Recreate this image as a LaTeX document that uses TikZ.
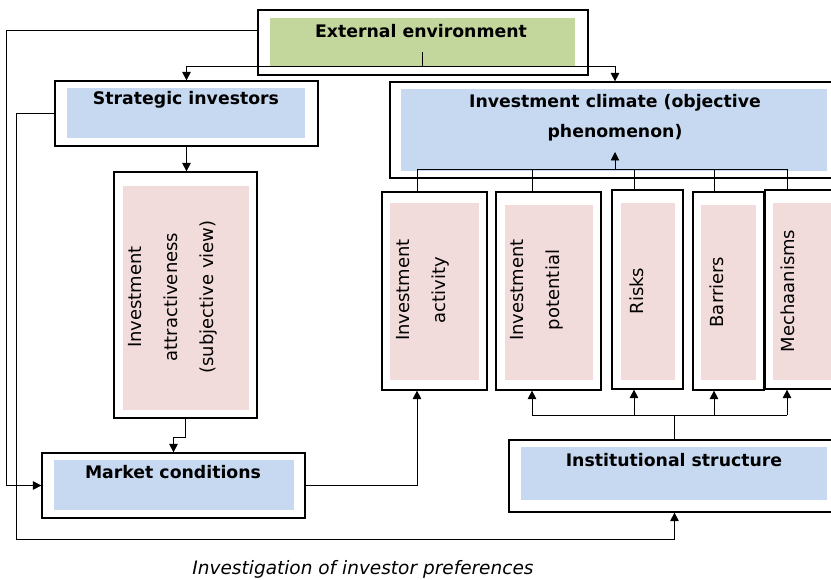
\documentclass[tikz,border=0pt]{standalone}
\usepackage{fontspec}
\setmainfont{DejaVu Sans}
\usetikzlibrary{arrows.meta,calc}
\definecolor{envgreen}{RGB}{195,214,155}
\definecolor{boxblue}{RGB}{198,217,241}
\definecolor{boxpink}{RGB}{242,220,219}
\tikzset{
  outerbox/.style={draw, line width=1.2pt, inner sep=0pt},
  conn/.style={line width=0.9pt},
  arr/.style={conn, -{Triangle[width=8.5pt,length=8.5pt]}},
  lbl/.style={font=\bfseries\fontsize{17.3}{30}\selectfont, inner sep=0pt, align=center},
  vlbl/.style={rotate=90, align=center, inner sep=0pt, font=\fontsize{18}{36}\selectfont},
  captext/.style={font=\itshape\fontsize{18.5}{22}\selectfont, inner sep=0pt}
}
\begin{document}
\begin{tikzpicture}[x=1pt,y=-1pt]
\useasboundingbox (0,0) rectangle (831,580);
\clip (0,0) rectangle (831,580);
% outer boxes
\node[outerbox, minimum width=330pt, minimum height=65pt] (ext) at (423,42.5) {};
\node[outerbox, minimum width=263pt, minimum height=65pt] (strat) at (186.5,113.5) {};
\node[outerbox, minimum width=143pt, minimum height=246pt] (attr) at (185.5,295) {};
\node[outerbox, minimum width=263pt, minimum height=65pt] (market) at (173.5,485.5) {};
\node[outerbox, minimum width=450pt, minimum height=96pt] (climate) at (615,130) {};
\node[outerbox, minimum width=105pt, minimum height=198pt] (act) at (434.5,291) {};
\node[outerbox, minimum width=105pt, minimum height=198pt] (pot) at (548.5,291) {};
\node[outerbox, minimum width=71pt, minimum height=199pt] (risk) at (647.5,289.5) {};
\node[outerbox, minimum width=71pt, minimum height=198pt] (barr) at (728.5,291) {};
\node[outerbox, minimum width=80pt, minimum height=199pt] (mech) at (805,289.5) {};
\node[outerbox, minimum width=331pt, minimum height=72pt] (inst) at (674.5,476) {};
% inner fills
\fill[envgreen] (270,18) rectangle (575,67);
\fill[boxblue] (67,88) rectangle (305,138);
\fill[boxpink] (123,186) rectangle (249,410);
\fill[boxblue] (54,460) rectangle (294,510);
\fill[boxblue] (401,89) rectangle (827,171);
\fill[boxpink] (390,203) rectangle (479,380);
\fill[boxpink] (505,205) rectangle (593,380);
\fill[boxpink] (621,203) rectangle (675,380);
\fill[boxpink] (701,205) rectangle (756,380);
\fill[boxpink] (773,203) rectangle (831,380);
\fill[boxblue] (521,447) rectangle (827,500);
% labels
\node[lbl] (extl) at (421,31) {External environment};
\node[lbl] (stratl) at (186,100) {Strategic investors};
\node[lbl] (climl) at (615,118) {Investment climate (objective\\phenomenon)};
\node[lbl] (marketl) at (173,472) {Market conditions};
\node[lbl] (instl) at (674,460) {Institutional structure};
\node[vlbl] (attrl) at (173,297) {Investment\\attractiveness\\(subjective view)};
\node[vlbl] (actl) at (423,290) {Investment\\activity};
\node[vlbl] (potl) at (537,290) {Investment\\potential};
\node[vlbl] (riskl) at (637,291) {Risks};
\node[vlbl] (barrl) at (717,292) {Barriers};
\node[vlbl] (mechl) at (788,291) {Mechaanisms};
\node[captext] (caption) at (363,569) {Investigation of investor preferences};
% connector coordinates
\coordinate (exttick) at (422,52);
\coordinate (extsplit) at (422,66);
\coordinate (climin) at (615,152);
\coordinate (topbus) at (615,169);
\coordinate (colA) at (417,0);
\coordinate (colB) at (532,0);
\coordinate (colC) at (634,0);
\coordinate (colD) at (714,0);
\coordinate (colE) at (787,0);
\coordinate (botbus) at (674,415);
% external environment connectors
\draw[conn] (exttick) -- (extsplit);
\draw[arr] (extsplit) -| (strat.north);
\draw[arr] (extsplit) -| (climate.north);
\draw[arr] ([yshift=12.5pt]ext.west) -- ++(-251,0) |- (market.west);
% strategic investors
\draw[arr] (strat.south) -- (strat.south |- attr.north);
\draw[arr] (strat.west) -- ++(-38,0) -- ++(0,425.5) -| (inst.south);
% attractiveness to market
\draw[arr] (attr.south) -- ++(0,19) -| (market.north);
% market to activity
\draw[arr] (market.east) -| (colA |- act.south);
% climate bus
\draw[conn] (colA |- topbus) -- (colE |- topbus);
\draw[arr] (topbus) -- (climin);
\draw[conn] (colA |- topbus) -- (colA |- act.north);
\draw[conn] (colB |- topbus) -- (colB |- pot.north);
\draw[conn] (colC |- topbus) -- (colC |- risk.north);
\draw[conn] (colD |- topbus) -- (colD |- barr.north);
\draw[conn] (colE |- topbus) -- (colE |- mech.north);
% institutional bus
\draw[conn] (inst.north) -- (inst.north |- botbus);
\draw[conn] (colB |- botbus) -- (colE |- botbus);
\draw[arr] (colB |- botbus) -- (colB |- pot.south);
\draw[arr] (colC |- botbus) -- (colC |- risk.south);
\draw[arr] (colD |- botbus) -- (colD |- barr.south);
\draw[arr] (colE |- botbus) -- (colE |- mech.south);
\end{tikzpicture}
\end{document}
